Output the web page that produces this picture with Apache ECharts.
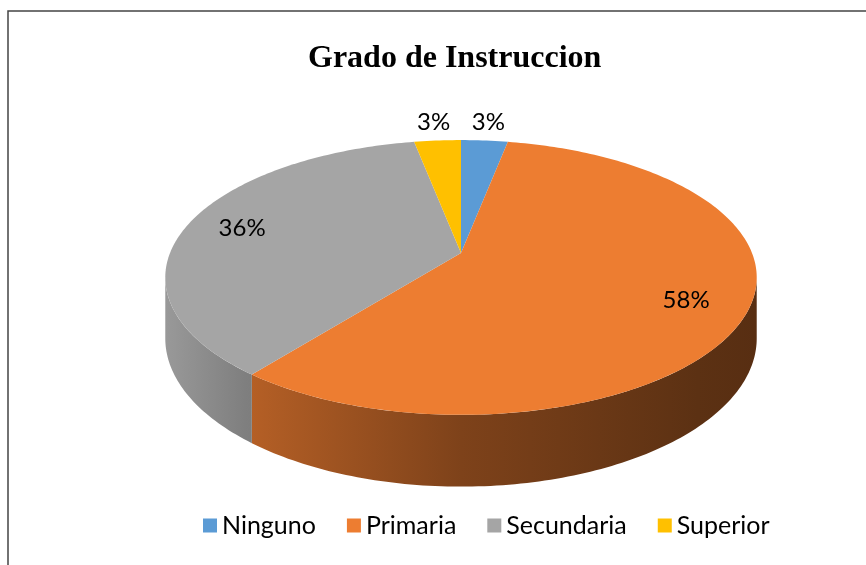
<!DOCTYPE html>
<html>
<head>
<meta charset="utf-8">
<script src="https://cdn.jsdelivr.net/npm/echarts@6/dist/echarts.min.js"></script>
<style>
  html, body { margin: 0; padding: 0; background: #fff; }
  #box { width: 866px; height: 565px; }
</style>
</head>
<body>
<div id="box"></div>
<script>
// datos
const categories = ['Ninguno', 'Primaria', 'Secundaria', 'Superior'];
const counts = [1, 19, 12, 1];
const colors = ['#5b9bd5', '#ed7d31', '#a5a5a5', '#ffc000'];

const total = counts.reduce((a, b) => a + b, 0);

// proyeccion en perspectiva del disco
const CX = 461, CY = 253, R = 291, Q = 88, W = -0.178, H = 59;
const EXT = R / Math.sqrt(1 - W * W);
const TH_R = Math.acos(W);              // silueta derecha
const TH_L = 2 * Math.PI - TH_R;        // silueta izquierda

function proj(theta, r, drop) {
  const u = r * Math.sin(theta), v = -r * Math.cos(theta);
  const s = 1 / (1 + W * v);
  return [CX + R * u * s, (CY + Q * v) * s + (drop || 0) * s];
}

function arc(a0, a1, r, drop) {
  const pts = [];
  const n = Math.max(2, Math.ceil(Math.abs(a1 - a0) / (Math.PI / 180)));
  for (let k = 0; k <= n; k++) pts.push(proj(a0 + (a1 - a0) * k / n, r, drop));
  return pts;
}

function shade(hex, f) {
  const c = parseInt(hex.slice(1), 16);
  const r = Math.round(((c >> 16) & 255) * f), g = Math.round(((c >> 8) & 255) * f), b = Math.round((c & 255) * f);
  return 'rgb(' + r + ',' + g + ',' + b + ')';
}

// angulos de cada porcion (sentido horario desde las 12)
const starts = [];
let acc = 0;
counts.forEach(c => { starts.push(acc / total * 2 * Math.PI); acc += c; });

function makeRender(i) {
  return function (params, api) {
    const val = api.value(0);
    const a0 = starts[i], a1 = a0 + val / total * 2 * Math.PI;
    const children = [];

    // pared lateral visible
    const lo = Math.max(a0, TH_R), hi = Math.min(a1, TH_L);
    if (hi > lo) {
      const top = arc(lo, hi, 1, 0);
      const bot = arc(hi, lo, 1, H);
      children.push({
        type: 'polygon', z2: 1,
        shape: { points: top.concat(bot) },
        style: {
          fill: {
            type: 'linear', global: true, x: CX - EXT, y: 0, x2: CX + EXT, y2: 0,
            colorStops: [
              { offset: 0, color: shade(colors[i], 0.93) },
              { offset: 0.135, color: shade(colors[i], 0.77) },
              { offset: 0.5, color: shade(colors[i], 0.53) },
              { offset: 0.9, color: shade(colors[i], 0.39) },
              { offset: 1, color: shade(colors[i], 0.37) }
            ]
          }
        }
      });
    }

    // cara superior
    children.push({
      type: 'polygon', z2: 5,
      shape: { points: [proj(0, 0, 0)].concat(arc(a0, a1, 1, 0)) },
      style: { fill: colors[i] }
    });

    // etiqueta
    const pct = Math.round(val / total * 100);
    const mid = (a0 + a1) / 2;
    const p = pct < 10 ? proj(mid, 1.2, 0) : proj(mid, 0.8, 0);
    children.push({
      type: 'text', z2: 10, x: p[0], y: p[1],
      style: {
        text: pct + '%', fill: '#000', fontSize: 24, fontFamily: 'Lato',
        align: 'center', verticalAlign: 'middle',
        textAlign: 'center', textVerticalAlign: 'middle'
      }
    });
    return { type: 'group', children: children };
  };
}

const myChart = echarts.init(document.getElementById('box'));
const option = {
  animation: false,
  color: colors,
  title: {
    text: 'Grado de Instruccion',
    left: 303, top: 38,
    textStyle: { fontFamily: 'Liberation Serif', fontWeight: 'bold', fontSize: 32, color: '#000' }
  },
  legend: {
    data: categories,
    left: 203, top: 513, padding: 0,
    icon: 'rect', itemWidth: 14, itemHeight: 14, itemGap: 31,
    textStyle: { fontFamily: 'Lato', fontSize: 25, color: '#000' }
  },
  graphic: [{
    type: 'rect', silent: true,
    shape: { x: 8, y: 11, width: 900, height: 600 },
    style: { fill: 'none', stroke: '#444', lineWidth: 1.5 }
  }],
  series: categories.map((name, i) => ({
    type: 'custom',
    name: name,
    coordinateSystem: 'none',
    silent: true,
    itemStyle: { color: colors[i] },
    data: [counts[i]],
    renderItem: makeRender(i)
  }))
};
myChart.setOption(option);
</script>
</body>
</html>
